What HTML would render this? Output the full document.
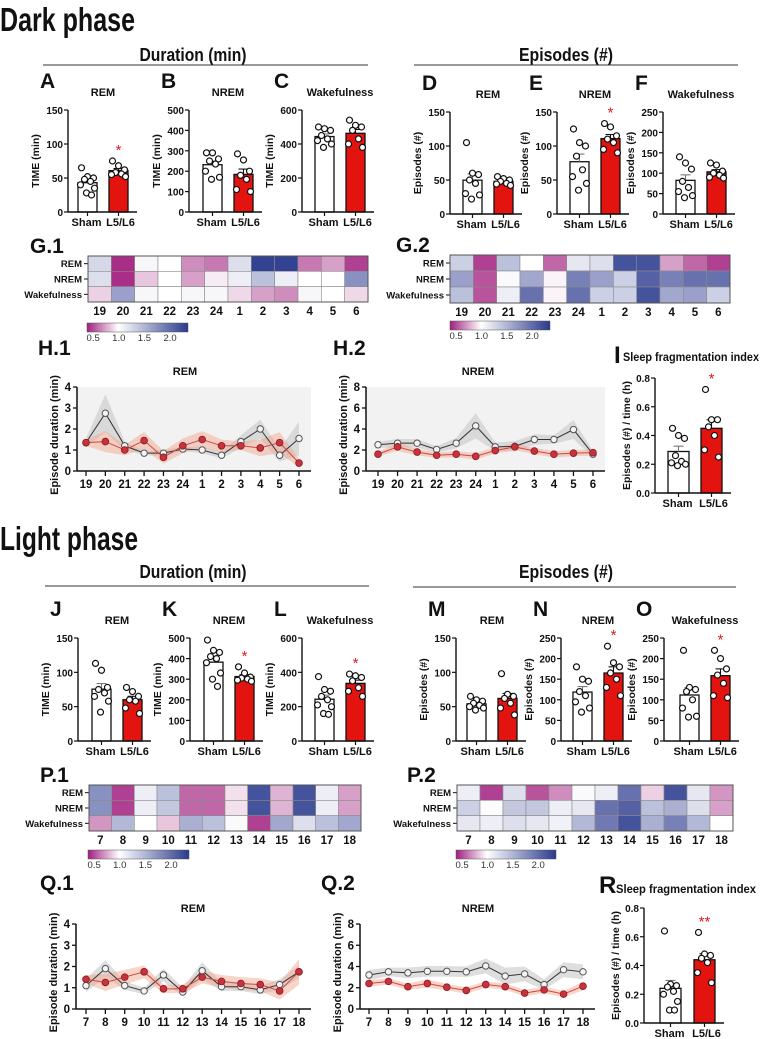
<!DOCTYPE html>
<html><head><meta charset="utf-8">
<style>
html,body{margin:0;padding:0;background:#fff;}
svg{display:block;font-family:"Liberation Sans",Arial,sans-serif;}
</style></head>
<body>
<svg id="fig" width="762" height="1039" viewBox="0 0 762 1039" xmlns="http://www.w3.org/2000/svg">
<defs>
<linearGradient id="cbgrad" x1="0" x2="1" y1="0" y2="0">
<stop offset="0" stop-color="#a0207f"/>
<stop offset="0.31" stop-color="#ffffff"/>
<stop offset="1" stop-color="#2a3a8c"/>
</linearGradient>
</defs>
</svg>
<script>
// ---------- bar chart data (individual animals) ----------
const barGroups = ["Sham", "L5/L6"];
const aSham = [65,52,50,48,45,40,35,28,25];
const aRed  = [75,68,62,58,56,55,52];
const bSham = [290,290,260,250,235,200,170,160];
const bRed  = [285,255,200,180,160,110,100];
const cSham = [500,490,480,450,430,420,400,380];
const cRed  = [540,510,500,480,430,400,380];
const dSham = [105,60,58,50,45,30,28,22];
const dRed  = [55,52,50,48,45,44,42];
const eSham = [125,105,100,85,65,55,45,35];
const eRed  = [133,128,115,110,105,95,90];
const fSham = [140,125,110,80,65,55,45,40];
const fRed  = [125,120,105,100,95,90,88];
const iSham = [0.45,0.40,0.38,0.26,0.22,0.21,0.20,0.19];
const iRed  = [0.72,0.51,0.51,0.46,0.40,0.30,0.25];
const jSham = [113,103,78,75,70,65,58,42];
const jRed  = [78,72,65,60,58,48,40];
const kSham = [490,440,430,410,400,380,330,300,265];
const kRed  = [360,330,310,305,300,295,290];
const lSham = [375,300,290,260,240,210,200,160,155];
const lRed  = [390,380,370,350,310,290,260];
const mSham = [65,60,58,55,52,50,48,45];
const mRed  = [98,68,65,62,55,48,38];
const nSham = [180,150,145,120,110,95,80,70];
const nRed  = [230,190,180,165,150,130,110];
const oSham = [220,130,125,120,100,80,60,58];
const oRed  = [220,200,175,160,140,110,105];
const rSham = [0.64,0.27,0.26,0.25,0.22,0.20,0.15,0.09,0.09];
const rRed  = [0.63,0.48,0.47,0.45,0.42,0.35,0.28];

// ---------- heatmap data (ratio L5/L6 vs sham) ----------
const darkHours = ["19","20","21","22","23","24","1","2","3","4","5","6"];
const lightHours = ["7","8","9","10","11","12","13","14","15","16","17","18"];
const heatRows = ["REM","NREM","Wakefulness"];
const g1Rem  = [1.25,0.45,1.05,1.0,0.7,0.65,1.2,2.2,2.2,0.65,0.75,0.5];
const g1Nrem = [1.2,0.45,0.85,1.0,0.75,0.95,1.1,1.4,1.1,1.0,1.0,1.7];
const g1Wake = [0.88,1.6,1.05,1.0,1.05,1.05,0.9,0.75,0.7,1.05,1.0,0.9];
const g2Rem  = [1.3,0.5,1.4,1.0,0.6,1.15,1.2,2.1,2.1,0.75,0.6,0.5];
const g2Nrem = [1.6,0.55,1.03,1.55,0.97,1.8,1.6,1.3,2.0,1.8,1.9,1.9];
const g2Wake = [1.4,0.55,1.1,1.9,0.97,1.9,1.3,1.3,2.1,1.55,1.6,1.3];
const p1Rem  = [1.7,0.5,1.1,1.4,0.6,0.6,0.92,2.1,0.8,2.1,1.1,0.75];
const p1Nrem = [1.7,0.5,1.1,1.35,0.6,0.6,0.92,2.1,0.8,2.1,1.1,0.75];
const p1Wake = [0.72,1.45,1.0,0.85,1.5,1.4,1.03,0.5,1.55,1.2,1.4,1.55];
const p2Rem  = [1.1,0.5,1.2,0.55,0.7,1.03,1.1,1.9,0.88,2.1,1.15,0.72];
const p2Nrem = [1.3,1.02,1.35,1.35,1.1,1.15,1.9,2.0,1.4,1.5,1.2,0.75];
const p2Wake = [1.15,1.1,1.2,1.15,1.08,1.45,1.85,2.1,1.5,1.8,1.45,1.0];
const cbTicks = [0.5,1.0,1.5,2.0];

// ---------- episode duration line data ----------
const h1Sham = [1.35,2.75,1.2,0.85,0.85,1.05,1.0,0.75,1.4,2.0,0.75,1.55];
const h1Red  = [1.35,1.4,1.0,1.45,0.65,1.2,1.5,1.2,1.2,1.1,1.35,0.38];
const h1ShamErr = [0.2,0.9,0.2,0.1,0.15,0.1,0.15,0.15,0.3,0.45,0.3,0.8];
const h1RedErr  = [0.15,0.5,0.25,0.4,0.3,0.35,0.4,0.3,0.2,0.4,0.5,0.2];
const h2Sham = [2.5,2.65,2.65,2.05,2.65,4.3,2.3,2.35,3.0,3.0,3.95,1.6];
const h2Red  = [1.6,2.3,1.8,1.5,1.6,1.4,1.95,2.3,1.9,1.6,1.7,1.75];
const h2ShamErr = [0.3,0.4,0.4,0.3,0.5,1.2,0.4,0.5,0.5,0.4,0.9,0.3];
const h2RedErr  = [0.2,0.4,0.3,0.25,0.3,0.3,0.3,0.3,0.3,0.3,0.3,0.3];
const q1Sham = [1.1,1.9,1.1,0.85,1.6,0.8,1.8,1.05,1.05,0.9,1.15,1.75];
const q1Red  = [1.4,1.25,1.5,1.75,0.95,0.95,1.5,1.3,1.2,1.15,0.85,1.75];
const q1ShamErr = [0.3,0.4,0.2,0.15,0.3,0.2,0.4,0.2,0.2,0.2,0.25,0.3];
const q1RedErr  = [0.2,0.4,0.35,0.3,0.2,0.2,0.3,0.3,0.3,0.3,0.4,0.6];
const q2Sham = [3.2,3.5,3.4,3.55,3.55,3.5,4.05,3.1,3.3,2.3,3.7,3.5];
const q2Red  = [2.4,2.6,2.1,2.4,2.05,1.75,2.3,2.1,1.5,1.8,1.4,2.15];
const q2ShamErr = [0.5,0.4,0.5,0.5,0.5,0.5,0.7,0.8,0.7,0.5,0.7,0.7];
const q2RedErr  = [0.3,0.3,0.3,0.4,0.3,0.3,0.3,0.3,0.3,0.3,0.3,0.4];

const NS = "http://www.w3.org/2000/svg";
const svg = document.getElementById("fig");

function mk(tag, attrs, parent, name) {
  const e = document.createElementNS(NS, tag);
  for (const k in attrs) e.setAttribute(k, attrs[k]);
  
  
  (parent || svg).appendChild(e);
  return e;
}
function txt(x, y, s, size, name, opt, parent) {
  opt = opt || {};
  const a = {x: x, y: y, "font-size": size, "font-weight": opt.w || "bold", fill: opt.fill || "#111", "text-anchor": opt.anchor || "start"};
  if (opt.tl) { a.textLength = opt.tl; a.lengthAdjust = "spacingAndGlyphs"; }
  if (opt.tr) a.transform = opt.tr;
  if (opt.dy) a.dy = opt.dy;
  const e = mk("text", a, parent, name);
  e.textContent = s;
  return e;
}
function mean(a) { return a.reduce((p, c) => p + c, 0) / a.length; }
function sem(a) { const m = mean(a); const v = a.reduce((p, c) => p + (c - m) * (c - m), 0) / (a.length - 1); return Math.sqrt(v / a.length); }
function fmtNum(v, dec) { return dec ? v.toFixed(dec) : String(Math.round(v)); }

// ---------- headings ----------
txt(0, 31, "Dark phase", 33, "dark-phase-title", {tl: 135});
txt(0, 550, "Light phase", 33, "light-phase-title", {tl: 138});
function section(cx, base, lx0, lx1, ly, s, tl, name) {
  txt(cx, base, s, 18, name, {anchor: "middle", tl: tl, w: "bold"});
  mk("line", {x1: lx0, x2: lx1, y1: ly, y2: ly, stroke: "#333", "stroke-width": 1}, null, name + "-rule");
}
section(193, 61, 43, 368, 65, "Duration (min)", 107, "dark-duration-heading");
section(566, 61, 414, 738, 65, "Episodes (#)", 94, "dark-episodes-heading");
section(193, 578, 45, 369, 586, "Duration (min)", 107, "light-duration-heading");
section(566, 578, 413, 736, 587, "Episodes (#)", 94, "light-episodes-heading");

// ---------- bar charts ----------
const jit = [-6, 0, 6, -3, 3, -7, 7, -1, 4];
function barChart(c) {
  const g = mk("g", {}, null, c.id + "-chart");
  const bw = c.bw || 19, gap = c.gap || 31;
  const y = v => c.bot - v / c.max * (c.bot - c.top);
  const sx = c.ax + c.s0, rx = c.ax + c.s0 + gap;
  const centers = [sx + bw / 2, rx + bw / 2];
  if (c.letter) txt(c.ax - 28, c.top - 22, c.letter, 21, c.id + "-panel-letter", {}, g);
  if (c.title) txt((centers[0] + centers[1]) / 2, c.top - 14, c.title, 11, c.id + "-title", {anchor: "middle"}, g);
  txt(0, 0, c.ylab, 10.5, c.id + "-y-axis-title", {anchor: "middle", dy: 4, tr: "translate(" + (c.ax - c.ylo) + "," + ((c.top + c.bot) / 2) + ") rotate(-90)"}, g);
  const groups = [c.sham, c.red];
  groups.forEach((pts, gi) => {
    const m = mean(pts), e = sem(pts);
    const bx = gi ? rx : sx;
    mk("rect", {x: bx, y: y(m), width: bw, height: c.bot - y(m), fill: gi ? "#e3140f" : "#fff", stroke: "#111", "stroke-width": 1.3}, g, gi ? c.id + "-bar-l5l6" : c.id + "-bar-sham");
    const cx = bx + bw / 2;
    mk("line", {x1: cx, x2: cx, y1: y(m), y2: y(m + e), stroke: gi ? "#111" : "#777", "stroke-width": 1.1}, g, c.id + "-error-bar");
    mk("line", {x1: cx - 5, x2: cx + 5, y1: y(m + e), y2: y(m + e), stroke: gi ? "#111" : "#777", "stroke-width": 1.1}, g, c.id + "-error-cap");
    pts.forEach((v, i) => {
      mk("circle", {cx: cx + jit[i % jit.length], cy: y(v), r: 3, fill: "#fff", stroke: "#111", "stroke-width": 1.2}, g, c.id + "-data-point");
    });
  });
  if (c.sig) txt(centers[1], y(Math.max.apply(null, c.red)) - 6, c.sig, 15, c.id + "-significance", {anchor: "middle", fill: "#e01a1a", w: "normal"}, g);
  mk("line", {x1: c.ax, x2: c.ax, y1: c.top, y2: c.bot, stroke: "#111", "stroke-width": 1.4}, g, c.id + "-y-axis");
  mk("line", {x1: c.ax, x2: rx + bw + 9, y1: c.bot, y2: c.bot, stroke: "#111", "stroke-width": 1.4}, g, c.id + "-x-axis");
  for (let v = 0; v <= c.max + 1e-9; v += c.step) {
    mk("line", {x1: c.ax - 4, x2: c.ax, y1: y(v), y2: y(v), stroke: "#111", "stroke-width": 1.2}, g, c.id + "-y-tick");
    txt(c.ax - 5, y(v) + 4, fmtNum(v, c.dec), 10, c.id + "-y-tick-label", {anchor: "end"}, g);
  }
  barGroups.forEach((lab, i) => {
    mk("line", {x1: centers[i], x2: centers[i], y1: c.bot, y2: c.bot + 4, stroke: "#111", "stroke-width": 1.2}, g, c.id + "-x-tick");
    txt(centers[i] + (i ? 2 : -1), c.bot + 14, lab, 11, c.id + "-x-tick-label", {anchor: "middle"}, g);
  });
}
barChart({id: "a", ax: 68, top: 110, bot: 212, max: 150, step: 50, s0: 10, sham: aSham, red: aRed, ylab: "TIME (min)", ylo: 33, title: "REM", letter: "A", sig: "*"});
barChart({id: "b", ax: 189, top: 110, bot: 212, max: 500, step: 100, s0: 14, sham: bSham, red: bRed, ylab: "TIME (min)", ylo: 33, title: "NREM", letter: "B"});
barChart({id: "c", ax: 302, top: 110, bot: 212, max: 600, step: 200, s0: 13, sham: cSham, red: cRed, ylab: "TIME (min)", ylo: 33, title: "Wakefulness", letter: "C"});
barChart({id: "d", ax: 450, top: 112, bot: 214, max: 150, step: 50, s0: 13, sham: dSham, red: dRed, ylab: "Episodes (#)", ylo: 33, title: "REM", letter: "D"});
barChart({id: "e", ax: 557, top: 112, bot: 214, max: 150, step: 50, s0: 13, sham: eSham, red: eRed, ylab: "Episodes (#)", ylo: 33, title: "NREM", letter: "E", sig: "*"});
barChart({id: "f", ax: 663, top: 112, bot: 214, max: 250, step: 50, s0: 13, sham: fSham, red: fRed, ylab: "Episodes (#)", ylo: 33, title: "Wakefulness", letter: "F"});
barChart({id: "i", ax: 655, top: 378, bot: 493, max: 0.8, step: 0.2, dec: 1, s0: 13, bw: 21, gap: 33, sham: iSham, red: iRed, ylab: "Episodes (#) / time (h)", ylo: 29, sig: "*"});
barChart({id: "j", ax: 78, top: 638, bot: 741, max: 150, step: 50, s0: 14, sham: jSham, red: jRed, ylab: "TIME (min)", ylo: 33, title: "REM", letter: "J"});
barChart({id: "k", ax: 190, top: 638, bot: 741, max: 500, step: 100, s0: 14, sham: kSham, red: kRed, ylab: "TIME (min)", ylo: 33, title: "NREM", letter: "K", sig: "*"});
barChart({id: "l", ax: 302, top: 638, bot: 741, max: 600, step: 200, s0: 13, sham: lSham, red: lRed, ylab: "TIME (min)", ylo: 33, title: "Wakefulness", letter: "L", sig: "*"});
barChart({id: "m", ax: 456, top: 638, bot: 741, max: 150, step: 50, s0: 11, sham: mSham, red: mRed, ylab: "Episodes (#)", ylo: 33, title: "REM", letter: "M"});
barChart({id: "n", ax: 561, top: 638, bot: 741, max: 250, step: 50, s0: 12, sham: nSham, red: nRed, ylab: "Episodes (#)", ylo: 33, title: "NREM", letter: "N", sig: "*"});
barChart({id: "o", ax: 664, top: 638, bot: 741, max: 250, step: 50, s0: 16, sham: oSham, red: oRed, ylab: "Episodes (#)", ylo: 33, title: "Wakefulness", letter: "O", sig: "*"});
barChart({id: "r", ax: 644, top: 908, bot: 1023, max: 0.8, step: 0.2, dec: 1, s0: 16, bw: 21, gap: 34, sham: rSham, red: rRed, ylab: "Episodes (#) / time (h)", ylo: 29, sig: "**"});
txt(614, 363, "I", 24, "i-panel-letter");
txt(623, 361, "Sleep fragmentation index", 12, "i-title", {tl: 136});
txt(599, 893, "R", 24, "r-panel-letter");
txt(616, 893, "Sleep fragmentation index", 12, "r-title", {tl: 140});

// ---------- heatmaps ----------
function mix(a, b, t) { return Math.round(a + (b - a) * t); }
function heatColor(v) {
  let c, t;
  if (v < 1) { t = Math.min(1, (1 - v) / 0.58); c = [163, 35, 128]; }
  else { t = Math.min(1, (v - 1) / 1.25); c = [44, 58, 142]; }
  return "rgb(" + mix(255, c[0], t) + "," + mix(255, c[1], t) + "," + mix(255, c[2], t) + ")";
}
function heatmap(h) {
  const g = mk("g", {}, null, h.id + "-heatmap");
  txt(h.lx, h.y0 - 3, h.letter, 21, h.id + "-panel-letter", {}, g);
  const n = h.hours.length, cw = (h.x1 - h.x0) / n, rh = (h.y1 - h.y0) / 3;
  h.rows.forEach((row, r) => {
    row.forEach((v, i) => {
      mk("rect", {x: h.x0 + i * cw, y: h.y0 + r * rh, width: cw, height: rh, fill: heatColor(v), stroke: "#8a8a8a", "stroke-width": 0.6}, g, h.id + "-cell");
    });
    mk("line", {x1: h.x0 - 4, x2: h.x0, y1: h.y0 + (r + 0.5) * rh, y2: h.y0 + (r + 0.5) * rh, stroke: "#111", "stroke-width": 1}, g, h.id + "-row-tick");
    txt(h.x0 - 6, h.y0 + (r + 0.5) * rh + 3.5, heatRows[r], 9.5, h.id + "-row-label", {anchor: "end"}, g);
  });
  mk("rect", {x: h.x0, y: h.y0, width: h.x1 - h.x0, height: h.y1 - h.y0, fill: "none", stroke: "#555", "stroke-width": 1}, g, h.id + "-frame");
  h.hours.forEach((s, i) => txt(h.x0 + (i + 0.5) * cw, h.y1 + 13, s, 11.5, h.id + "-hour-label", {anchor: "middle"}, g));
  const cb0 = 0.38, cb1 = 2.35, cbw = h.cbx1 - h.cbx0;
  mk("rect", {x: h.cbx0, y: h.cby, width: cbw, height: 9, fill: "url(#cbgrad)", stroke: "#555", "stroke-width": 0.5}, g, h.id + "-colorbar");
  cbTicks.forEach(t => {
    txt(h.cbx0 + (t - cb0) / (cb1 - cb0) * cbw, h.cby + 18, t.toFixed(1), 9.5, h.id + "-colorbar-label", {anchor: "middle", w: "normal", fill: "#333"}, g);
  });
}
heatmap({id: "g1", letter: "G.1", lx: 30, x0: 88, x1: 368, y0: 256, y1: 302, rows: [g1Rem, g1Nrem, g1Wake], hours: darkHours, cbx0: 87, cbx1: 188, cby: 323});
heatmap({id: "g2", letter: "G.2", lx: 396, x0: 450, x1: 730, y0: 255, y1: 303, rows: [g2Rem, g2Nrem, g2Wake], hours: darkHours, cbx0: 450, cbx1: 550, cby: 321});
heatmap({id: "p1", letter: "P.1", lx: 40, x0: 89, x1: 361, y0: 785, y1: 831, rows: [p1Rem, p1Nrem, p1Wake], hours: lightHours, cbx0: 88, cbx1: 189, cby: 850});
heatmap({id: "p2", letter: "P.2", lx: 407, x0: 457, x1: 733, y0: 785, y1: 831, rows: [p2Rem, p2Nrem, p2Wake], hours: lightHours, cbx0: 456, cbx1: 556, cby: 850});

// ---------- line charts ----------
function lineChart(c) {
  const g = mk("g", {}, null, c.id + "-line-chart");
  const n = c.hours.length;
  const x = i => c.x0 + i * (c.x1 - c.x0) / (n - 1);
  const y = v => c.bot - v / c.max * (c.bot - c.top);
  const right = c.x1 + 12;
  if (c.bg) mk("rect", {x: c.ax, y: c.top, width: right - c.ax, height: c.bot - c.top, fill: "#f2f2f2"}, g, c.id + "-plot-background");
  txt(c.lx, c.ly, c.letter, 21, c.id + "-panel-letter", {}, g);
  txt(c.tx, c.top - 12, c.title, 11, c.id + "-title", {anchor: "middle"}, g);
  txt(0, 0, "Episode duration (min)", 11, c.id + "-y-axis-title", {anchor: "middle", dy: 4, tr: "translate(" + (c.ax - 23) + "," + ((c.top + c.bot) / 2 + 6) + ") rotate(-90)"}, g);
  function band(vals, errs, fill, op, name) {
    let pts = vals.map((v, i) => x(i) + "," + y(v + errs[i]));
    for (let i = n - 1; i >= 0; i--) pts.push(x(i) + "," + y(Math.max(0, vals[i] - errs[i])));
    mk("polygon", {points: pts.join(" "), fill: fill, "fill-opacity": op}, g, name);
  }
  band(c.sham, c.shamErr, "#c8c8c8", 0.6, c.id + "-sham-sem-band");
  band(c.red, c.redErr, "#f2a084", 0.45, c.id + "-l5l6-sem-band");
  mk("polyline", {points: c.sham.map((v, i) => x(i) + "," + y(v)).join(" "), fill: "none", stroke: "#333", "stroke-width": 1}, g, c.id + "-sham-line");
  mk("polyline", {points: c.red.map((v, i) => x(i) + "," + y(v)).join(" "), fill: "none", stroke: "#d04545", "stroke-width": 1}, g, c.id + "-l5l6-line");
  c.sham.forEach((v, i) => mk("circle", {cx: x(i), cy: y(v), r: 3.2, fill: "#f4f4f4", stroke: "#555", "stroke-width": 1}, g, c.id + "-sham-point"));
  c.red.forEach((v, i) => mk("circle", {cx: x(i), cy: y(v), r: 3.4, fill: "#c8323c", stroke: "#8a1a22", "stroke-width": 0.8}, g, c.id + "-l5l6-point"));
  mk("line", {x1: c.ax, x2: c.ax, y1: c.top, y2: c.bot, stroke: "#111", "stroke-width": 1.5}, g, c.id + "-y-axis");
  mk("line", {x1: c.ax, x2: right, y1: c.bot, y2: c.bot, stroke: "#111", "stroke-width": 1.5}, g, c.id + "-x-axis");
  for (let v = 0; v <= c.max; v += c.step) {
    mk("line", {x1: c.ax - 4, x2: c.ax, y1: y(v), y2: y(v), stroke: "#111", "stroke-width": 1.3}, g, c.id + "-y-tick");
    txt(c.ax - 6, y(v) + 4, String(v), 11.5, c.id + "-y-tick-label", {anchor: "end"}, g);
  }
  c.hours.forEach((h, i) => {
    mk("line", {x1: x(i), x2: x(i), y1: c.bot, y2: c.bot + 5, stroke: "#111", "stroke-width": 1.3}, g, c.id + "-x-tick");
    txt(x(i), c.bot + 17, h, 11.5, c.id + "-x-tick-label", {anchor: "middle"}, g);
  });
}
lineChart({id: "h1", letter: "H.1", lx: 38, ly: 355, title: "REM", tx: 185, ax: 77, top: 387, bot: 471, max: 4, step: 1, x0: 86, x1: 299, bg: true, hours: darkHours, sham: h1Sham, red: h1Red, shamErr: h1ShamErr, redErr: h1RedErr});
lineChart({id: "h2", letter: "H.2", lx: 333, ly: 355, title: "NREM", tx: 478, ax: 366, top: 387, bot: 471, max: 8, step: 2, x0: 378, x1: 593, bg: true, hours: darkHours, sham: h2Sham, red: h2Red, shamErr: h2ShamErr, redErr: h2RedErr});
lineChart({id: "q1", letter: "Q.1", lx: 40, ly: 890, title: "REM", tx: 193, ax: 76, top: 924, bot: 1009, max: 4, step: 1, x0: 86, x1: 299, bg: false, hours: lightHours, sham: q1Sham, red: q1Red, shamErr: q1ShamErr, redErr: q1RedErr});
lineChart({id: "q2", letter: "Q.2", lx: 321, ly: 890, title: "NREM", tx: 478, ax: 360, top: 924, bot: 1009, max: 8, step: 2, x0: 369, x1: 583, bg: false, hours: lightHours, sham: q2Sham, red: q2Red, shamErr: q2ShamErr, redErr: q2RedErr});
</script>
</body></html>
